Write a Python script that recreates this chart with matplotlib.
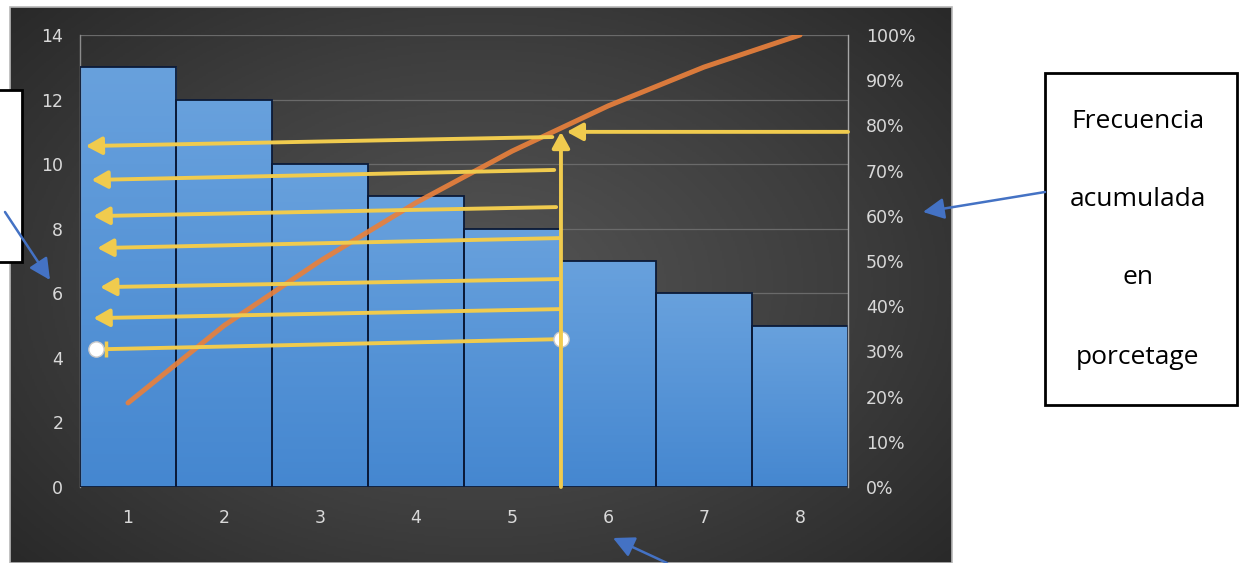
#%% Imports
import numpy as np
import matplotlib
matplotlib.use('Agg')
import matplotlib.pyplot as plt
from matplotlib.colors import LinearSegmentedColormap
from matplotlib.patches import Rectangle, FancyArrowPatch

#%% Data
categories = [1, 2, 3, 4, 5, 6, 7, 8]
frecuencia = [13, 12, 10, 9, 8, 7, 6, 5]
acumulado = [18.6, 35.7, 50.0, 62.9, 74.3, 84.3, 92.9, 100.0]   # % (right axis)
left_ticks = [0, 2, 4, 6, 8, 10, 12, 14]
right_ticks = [0, 10, 20, 30, 40, 50, 60, 70, 80, 90, 100]
box_lines = ['Frecuencia', 'acumulada', 'en', 'porcetage']

#%% Annotation geometry (left axis data units)
# yellow left-pointing arrows: (x_start, y_start, x_tip, y_tip)
guide_arrows = [(5.42, 10.84, 0.56, 10.56),
                (5.44, 9.82, 0.62, 9.51),
                (5.46, 8.67, 0.64, 8.39),
                (5.50, 7.71, 0.68, 7.40),
                (5.50, 6.44, 0.71, 6.19),
                (5.50, 5.51, 0.64, 5.23)]
guide_line = (5.51, 4.58, 0.77, 4.27)
cut_x, cut_y = 5.51, 11.0

W, H = 1239, 563
fig = plt.figure(figsize=(W / 100, H / 100), dpi=100)
fig.patch.set_facecolor('white')

def fx(px):
    return px / W

def fy(py):
    return 1 - py / H

#%% Dark gradient chart background
bg = fig.add_axes([fx(10), 0, fx(952 - 10), (H - 7) / H])
yy, xx = np.mgrid[0:1:300j, 0:1:500j]
r = np.sqrt(((xx - 0.5) / 0.75) ** 2 + ((yy - 0.5) / 0.85) ** 2)
bg_cmap = LinearSegmentedColormap.from_list('bg', ['#555555', '#3e3e3e', '#232323'])
bg.imshow(np.clip(r, 0, 1), cmap=bg_cmap, aspect='auto', vmin=0, vmax=1)
bg.set_axis_off()
fig.add_artist(Rectangle((fx(10), 0), fx(942), (H - 7) / H, transform=fig.transFigure,
                         fill=False, edgecolor='#b8b8b8', lw=1.2))

#%% Main axes with bars
ax = fig.add_axes([fx(80), fy(487), fx(768), 452 / H])
ax.set_facecolor('none')
ax.set_axisbelow(True)
ax.yaxis.grid(True, color='#6a6a6a', lw=0.9)

bars = ax.bar(categories, frecuencia, width=1.0, color='none',
              edgecolor='#0b1a38', lw=1.3, zorder=3)
bar_cmap = LinearSegmentedColormap.from_list('bar', ['#4587d0', '#68a1dd'])
grad = np.linspace(1, 0, 256).reshape(-1, 1)
for b in bars:
    x0 = b.get_x()
    im = ax.imshow(grad, cmap=bar_cmap, extent=[x0, x0 + b.get_width(), 0, b.get_height()],
                   aspect='auto', zorder=2, vmin=0, vmax=1)
    im.set_clip_path(b)

ax.set_xlim(0.5, 8.5)
ax.set_ylim(0, 14)
ax.set_xticks(categories)
ax.set_yticks(left_ticks)
ax.tick_params(axis='x', length=0, pad=16, labelsize=12.5, labelcolor='#d9d9d9')
ax.tick_params(axis='y', length=0, pad=12, labelsize=12.5, labelcolor='#d9d9d9')
for s in ['top', 'right', 'bottom']:
    ax.spines[s].set_visible(False)
ax.spines['left'].set_color('#8c8c8c')
ax.spines['left'].set_linewidth(1.0)

#%% Cumulative percentage line on right axis
ax2 = ax.twinx()
ax2.plot(categories, acumulado, color='#e8803c', lw=3.6, alpha=0.92,
         solid_capstyle='round', solid_joinstyle='round', zorder=3)
ax2.set_ylim(0, 100)
ax2.set_yticks(right_ticks)
ax2.set_yticklabels([f'{t}%' for t in right_ticks])
ax2.tick_params(axis='y', length=0, pad=13, labelsize=12.5, labelcolor='#d9d9d9')
for s in ['top', 'left', 'bottom']:
    ax2.spines[s].set_visible(False)
ax2.spines['right'].set_color('#a6a6a6')
ax2.spines['right'].set_linewidth(1.0)

#%% Yellow guide arrows
yel = '#f0cb4e'
astyle = '-|>,head_length=0.6,head_width=0.33'
for xs, ys, xt, yt in guide_arrows:
    ax2.annotate('', xy=(xt, yt), xytext=(xs, ys), xycoords=ax.transData,
                 textcoords=ax.transData,
                 arrowprops=dict(arrowstyle=astyle, color=yel, lw=2.8,
                                 mutation_scale=16, shrinkA=0, shrinkB=0), zorder=4)
xs, ys, xt, yt = guide_line
ax2.plot([xs, xt], [ys / 14 * 100, yt / 14 * 100], color=yel, lw=2.8, zorder=4)
ax2.plot([xt], [yt / 14 * 100], marker='|', ms=11, mew=2.5, color=yel, zorder=4)
ax2.plot([xs, xt - 0.1], [ys / 14 * 100, yt / 14 * 100], ls='none', marker='o', ms=11,
         mfc='white', mec='#c8c8c8', mew=1, zorder=5)

# vertical cut and horizontal 80% arrows
ax2.annotate('', xy=(cut_x, cut_y), xytext=(cut_x, 0), xycoords=ax.transData,
             textcoords=ax.transData,
             arrowprops=dict(arrowstyle=astyle, color=yel, lw=2.8,
                             mutation_scale=16, shrinkA=0, shrinkB=0), zorder=6)
ax2.annotate('', xy=(cut_x + 0.06, cut_y), xytext=(8.5, cut_y), xycoords=ax.transData,
             textcoords=ax.transData,
             arrowprops=dict(arrowstyle=astyle, color=yel, lw=2.8,
                             mutation_scale=16, shrinkA=0, shrinkB=0), zorder=6)
ax2.set_xlim(0.5, 8.5)

#%% Callout boxes and blue arrows
fig.add_artist(Rectangle((fx(-5), fy(262)), fx(27), (262 - 90) / H, transform=fig.transFigure,
                         facecolor='white', edgecolor='black', lw=2))
fig.add_artist(Rectangle((fx(1045), fy(405)), fx(1237 - 1045), (405 - 73) / H,
                         transform=fig.transFigure, facecolor='white', edgecolor='black', lw=2))
for line, py in zip(box_lines, [122, 200, 278, 357]):
    fig.text(fx(1138), fy(py), line, ha='center', va='center', fontsize=19,
             family='Open Sans', color='black')

blue = '#4472c4'
for (x1, y1), (x2, y2) in [((5, 212), (50, 280)),
                           ((1045, 192), (923, 212)),
                           ((667, 563), (613, 538))]:
    fig.add_artist(FancyArrowPatch((fx(x1), fy(y1)), (fx(x2), fy(y2)),
                                   transform=fig.transFigure,
                                   arrowstyle='-|>,head_length=0.8,head_width=0.4',
                                   mutation_scale=16, color=blue, lw=1.8,
                                   shrinkA=0, shrinkB=0))

plt.savefig('out.png', dpi=100)
